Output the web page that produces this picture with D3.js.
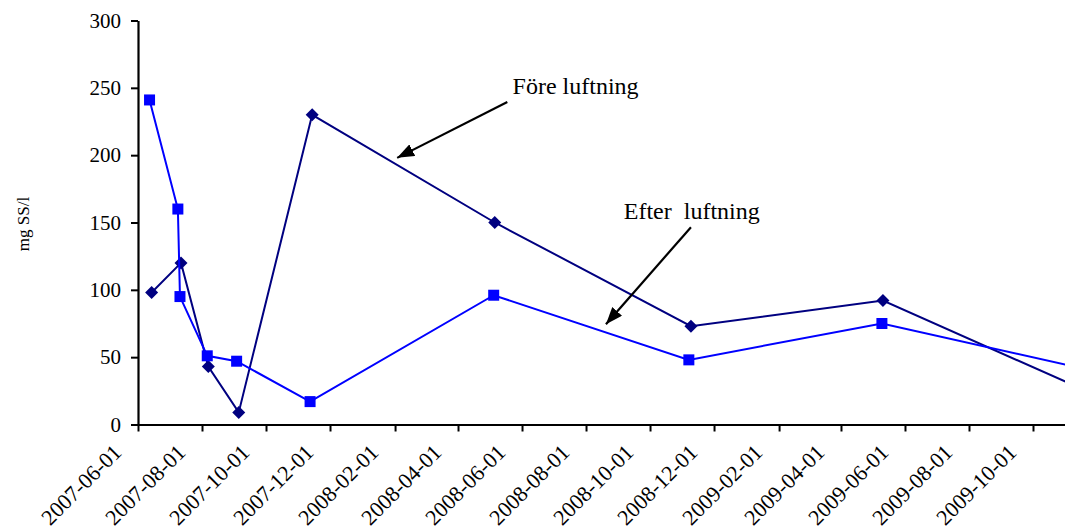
<!DOCTYPE html>
<html>
<head>
<meta charset="utf-8">
<script src="https://cdn.jsdelivr.net/npm/d3@7"></script>
<style>
  html, body { margin: 0; padding: 0; background: #fff; overflow: hidden; }
  svg { display: block; }
  text { font-family: "Liberation Serif", "Times New Roman", serif; fill: #000; }
</style>
</head>
<body>
<svg id="chart" width="1065" height="526"></svg>
<script>
// Suspended solids (mg SS/l) before and after aeration
const foreDates   = ["2007-06-14", "2007-07-12", "2007-08-07", "2007-09-05", "2007-11-14",
                     "2008-05-06", "2008-11-09", "2009-05-11", "2009-11-15"];
const foreValues  = [98, 120, 43, 9, 230, 150, 73, 92, 27];

const efterDates  = ["2007-06-12", "2007-07-09", "2007-07-11", "2007-08-06", "2007-09-03",
                     "2007-11-12", "2008-05-05", "2008-11-07", "2009-05-10", "2009-11-15"];
const efterValues = [241, 160, 95, 51, 47, 17, 96, 48, 75, 42];

const yTicks = [0, 50, 100, 150, 200, 250, 300];
const xTickLabels = ["2007-06-01", "2007-08-01", "2007-10-01", "2007-12-01", "2008-02-01",
                     "2008-04-01", "2008-06-01", "2008-08-01", "2008-10-01", "2008-12-01",
                     "2009-02-01", "2009-04-01", "2009-06-01", "2009-08-01", "2009-10-01"];
const xDomain = ["2007-06-01", "2009-12-01"];
const yLabel = "mg SS/l";

// Annotation labels with arrow start and arrow tip in data coordinates
const annotations = [
  { text: "Före luftning",   label: ["2008-05-23", 245.5], from: ["2008-05-18", 239.5], to: ["2008-02-03", 198] },
  { text: "Efter  luftning", label: ["2008-09-06", 152.5], from: ["2008-11-09", 146.5], to: ["2008-08-20", 74.5] }
];

const SERIF = '"Liberation Serif", "Times New Roman", serif';
const parse = d3.timeParse("%Y-%m-%d");
const fmt = d3.timeFormat("%Y-%m-%d");

const fore  = foreDates.map((d, i) => ({ date: parse(d), value: foreValues[i] }));
const efter = efterDates.map((d, i) => ({ date: parse(d), value: efterValues[i] }));

const svg = d3.select("#chart");
const plotLeft = 138, plotBottom = 424.5, plotTop = 20.5, plotRight = 1097;

const x = d3.scaleTime().domain(xDomain.map(parse)).range([plotLeft, plotRight]);
const y = d3.scaleLinear().domain([0, 300]).range([plotBottom, plotTop]);

// Y axis
const yAxis = d3.axisLeft(y).tickValues(yTicks).tickSize(7).tickPadding(10).tickSizeOuter(0);
const gy = svg.append("g")
  .attr("transform", `translate(${plotLeft},0)`)
  .call(yAxis)
  .attr("font-family", SERIF)
  .attr("font-size", 21);
gy.select(".domain").attr("stroke", "#000").attr("stroke-width", 2.2);
gy.selectAll(".tick line").attr("stroke", "#000").attr("stroke-width", 2);
gy.selectAll(".tick text")
  .attr("fill", "#000")
  .style("font-family", SERIF)
  .style("font-size", "21px");

// X axis
const xAxis = d3.axisBottom(x)
  .tickValues(xTickLabels.map(parse))
  .tickFormat(fmt)
  .tickSize(7)
  .tickSizeOuter(0);
const gx = svg.append("g")
  .attr("transform", `translate(0,${plotBottom})`)
  .call(xAxis)
  .attr("font-family", SERIF)
  .attr("font-size", 22);
gx.select(".domain").attr("stroke", "#000").attr("stroke-width", 2.2);
gx.selectAll(".tick line").attr("stroke", "#000").attr("stroke-width", 2);
gx.selectAll(".tick text")
  .attr("fill", "#000")
  .style("font-family", SERIF)
  .style("font-size", "22px")
  .attr("text-anchor", "end")
  .attr("dy", null)
  .attr("y", 0)
  .attr("dominant-baseline", "central")
  .attr("transform", "translate(-21,24) rotate(-45)");

// Y axis title
svg.append("text")
  .attr("transform", `translate(23,224) rotate(-90)`)
  .attr("text-anchor", "middle")
  .attr("dominant-baseline", "central")
  .style("font-family", SERIF)
  .style("font-size", "17px")
  .text(yLabel);

const line = d3.line().x(d => x(d.date)).y(d => y(d.value));

// Före luftning series: navy line with diamonds
svg.append("path").datum(fore)
  .attr("d", line).attr("fill", "none")
  .attr("stroke", "#000080").attr("stroke-width", 2);
svg.selectAll(".dia").data(fore).join("path")
  .attr("class", "dia")
  .attr("transform", d => `translate(${x(d.date)},${y(d.value)})`)
  .attr("d", "M0,-6.5L6.5,0L0,6.5L-6.5,0Z")
  .attr("fill", "#000080");

// Efter luftning series: blue line with squares
svg.append("path").datum(efter)
  .attr("d", line).attr("fill", "none")
  .attr("stroke", "#0000ff").attr("stroke-width", 2);
svg.selectAll(".sq").data(efter).join("rect")
  .attr("class", "sq")
  .attr("x", d => x(d.date) - 5.5).attr("y", d => y(d.value) - 5.5)
  .attr("width", 11).attr("height", 11)
  .attr("fill", "#0000ff");

// Arrowhead
svg.append("defs").append("marker")
  .attr("id", "arrow")
  .attr("viewBox", "0 0 17 13")
  .attr("refX", 17).attr("refY", 6.5)
  .attr("markerWidth", 17).attr("markerHeight", 13)
  .attr("markerUnits", "userSpaceOnUse")
  .attr("orient", "auto")
  .append("path").attr("d", "M0,0L17,6.5L0,13Z").attr("fill", "#000");

const pt = p => [x(parse(p[0])), y(p[1])];
annotations.forEach(a => {
  const [fx, fy] = pt(a.from), [tx, ty] = pt(a.to), [lx, ly] = pt(a.label);
  svg.append("line")
    .attr("x1", fx).attr("y1", fy).attr("x2", tx).attr("y2", ty)
    .attr("stroke", "#000").attr("stroke-width", 2.2)
    .attr("marker-end", "url(#arrow)");
  svg.append("text")
    .attr("x", lx).attr("y", ly)
    .style("font-family", SERIF)
    .style("font-size", "24px")
    .style("white-space", "pre")
    .text(a.text);
});
</script>
</body>
</html>
